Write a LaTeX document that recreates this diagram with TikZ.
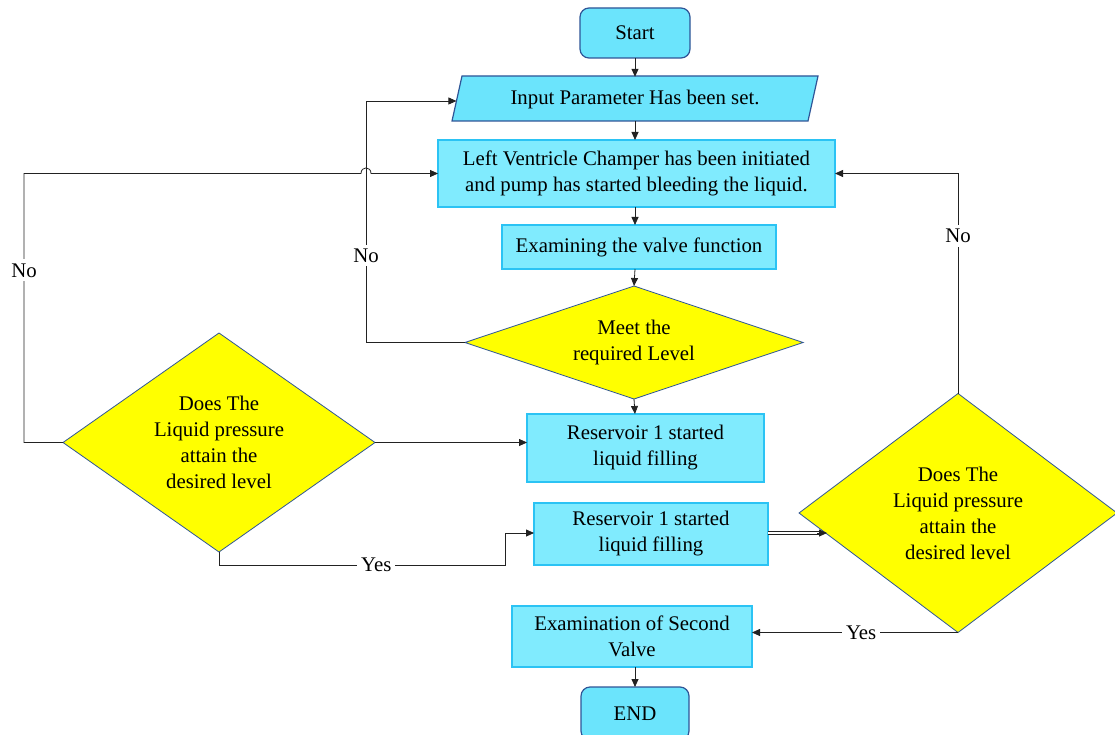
\documentclass[tikz,border=0pt]{standalone}
\usepackage{fontspec}
\setmainfont{Liberation Serif}
\usetikzlibrary{shapes.geometric,arrows.meta,calc}
\definecolor{termfill}{HTML}{6BE4FC}
\definecolor{termdraw}{HTML}{2F5597}
\definecolor{boxfill}{HTML}{80EBFE}
\definecolor{boxdraw}{HTML}{2BC3F4}
\definecolor{decfill}{HTML}{FFFF00}
\definecolor{decdraw}{HTML}{2F5597}
\definecolor{linec}{HTML}{222222}
\tikzset{
  txt/.style={font=\rmfamily\fontsize{20.8}{26}\selectfont, align=center, text=black},
  term/.style={txt, draw=termdraw, fill=termfill, line width=1.2pt, rounded corners=9pt, inner sep=0pt, outer sep=0pt},
  procbox/.style={txt, draw=boxdraw, fill=boxfill, line width=1.2pt, inner sep=0pt, outer sep=0pt},
  decision/.style={txt, diamond, draw=decdraw, fill=decfill, line width=0.8pt, inner sep=0pt, outer sep=0pt},
  para/.style={draw=termdraw, fill=termfill, line width=1.2pt},
  conn/.style={draw=linec, line width=0.8pt, -{Triangle[length=8pt,width=7pt]}},
  lbl/.style={font=\rmfamily\fontsize{20.8}{24}\selectfont, fill=white, inner sep=4pt, text=black}
}
\begin{document}
\begin{tikzpicture}[x=1pt,y=-1pt]
\useasboundingbox (0,0) rectangle (1115,735);
\fill[white] (0,0) rectangle (1115,735);

% nodes
\node[term, minimum width=110pt, minimum height=50pt] (start) at (635,33) {Start};
\draw[para] (462,76) -- (818,76) -- (808,121) -- (452,121) -- cycle;
\node[txt, inner sep=0pt, minimum width=340pt, minimum height=45pt] (inp) at (635,99.5) {Input Parameter Has been set.};
\coordinate (inpL) at (456.4,101);
\node[procbox, minimum width=397pt, minimum height=67pt] (lv) at (636.5,173.5) {Left Ventricle Champer has been initiated\\and pump has started bleeding the liquid.};
\node[procbox, minimum width=274pt, minimum height=44pt] (valve) at (639,247) {Examining the valve function};
\node[decision, aspect=3, minimum width=338pt, minimum height=113pt] (d1) at (634,342.5) {Meet the\\required Level};
\node[procbox, minimum width=237pt, minimum height=68pt] (r1) at (645.5,448) {Reservoir 1 started\\liquid filling};
\node[decision, aspect=1.42, minimum width=312pt, minimum height=219pt] (d2) at (219,442.5) {Does The\\Liquid pressure\\attain the\\desired level};
\node[procbox, minimum width=234pt, minimum height=62pt] (r2) at (651,534) {Reservoir 1 started\\liquid filling};
\node[decision, aspect=1.33, minimum width=318pt, minimum height=239pt] (d3) at (958,513) {Does The\\Liquid pressure\\attain the\\desired level};
\node[procbox, minimum width=240pt, minimum height=61pt] (ex) at (632,636.5) {Examination of Second\\Valve};
\node[term, minimum width=108pt, minimum height=53pt] (endn) at (635,713.5) {END};

% main flow
\draw[conn] (start.south) -- (start.south |- inp.north);
\draw[conn] (635,121) -- (635,140);
\draw[conn] (635,207) -- (valve.north -| 635,0);
\draw[conn] (635,269) -- (d1.north);
\draw[conn] (d1.south) -- (635,414);
\draw[conn] (ex.south -| 635,0) -- (endn.north);

% loops
\draw[conn] (d1.west) -- (366,342.5) -- node[lbl, pos=0.36] {No} (366,101) -- (inpL);
\draw[conn] (d2.west) -- (24,442.5) -- node[lbl, pos=0.64] {No} (24,173.5) -- (361,173.5)
   .. controls (361,166) and (371,166) .. (371,173.5) -- (lv.west);
\draw[conn] (d2.east) -- (d2.east -| r1.west);
\draw[conn] (d2.south) -- (219,565) -- node[lbl, pos=0.55] {Yes} (505,565) -- (505,533) -- (r2.west |- 0,533);
\draw[draw=linec, line width=0.8pt, double=white, double distance=2pt] (r2.east |- 0,533) -- (821,533);
\draw[conn] (817,533) -- (827,533);
\draw[conn] (d3.north) -- node[lbl, pos=0.715] {No} (d3.north |- lv.east) -- (lv.east);
\draw[conn] (d3.south) -- node[lbl, pos=0.47] {Yes} (d3.south -| ex.east);
\end{tikzpicture}
\end{document}
